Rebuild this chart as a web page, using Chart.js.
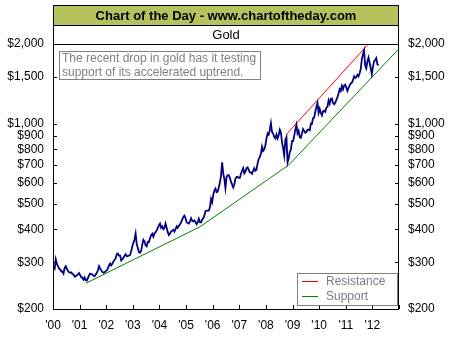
<!DOCTYPE html>
<html>
<head>
<meta charset="utf-8">
<script src="https://cdn.jsdelivr.net/npm/chart.js@4.4.1/dist/chart.umd.min.js"></script>
<style>
  body { margin: 0; background: #fff; }
</style>
</head>
<body>
<canvas id="grafica" width="454" height="340"></canvas>
<script>
// Precio del oro, dos lecturas por mes desde enero 2000 hasta marzo 2012
const goldStart = 2000;
const goldPerYear = 24;
const goldPrices = [
  288, 284, 308, 296, 290, 284, 282, 277, 277, 272, 286, 290, 283, 279, 275, 274, 275, 271, 270, 265, 266, 268, 270, 273, // 2000
  268, 264, 262, 258, 263, 257, 256, 262, 268, 272, 271, 270, 267, 266, 270, 274, 280, 290, 284, 280, 276, 274, 275, 278, // 2001
  280, 284, 292, 297, 292, 296, 302, 306, 311, 322, 324, 318, 318, 305, 308, 312, 318, 322, 316, 317, 318, 320, 330, 345, // 2002
  355, 366, 385, 352, 340, 328, 326, 332, 350, 365, 360, 348, 345, 358, 358, 370, 380, 385, 375, 385, 390, 396, 405, 413, // 2003
  420, 405, 410, 400, 405, 420, 405, 390, 380, 385, 392, 395, 398, 392, 400, 410, 405, 412, 418, 425, 435, 445, 450, 440, // 2004
  425, 422, 420, 428, 440, 430, 428, 432, 425, 418, 425, 438, 425, 425, 435, 440, 450, 468, 470, 470, 470, 485, 520, 505, // 2005
  540, 560, 570, 552, 555, 575, 600, 635, 715, 650, 620, 572, 630, 640, 640, 625, 605, 590, 575, 590, 620, 630, 630, 625, // 2006
  625, 648, 665, 680, 650, 660, 680, 685, 670, 655, 655, 648, 665, 680, 665, 670, 710, 735, 750, 770, 820, 790, 800, 830, // 2007
  880, 920, 910, 950, 1005, 930, 920, 890, 880, 910, 880, 905, 950, 930, 850, 810, 760, 870, 890, 715, 740, 780, 800, 860, // 2008
  860, 900, 950, 990, 920, 940, 890, 885, 920, 955, 940, 925, 930, 950, 950, 945, 1000, 1000, 1050, 1055, 1110, 1160, 1200, 1100, // 2009
  1140, 1100, 1075, 1115, 1120, 1110, 1150, 1160, 1225, 1190, 1240, 1245, 1200, 1185, 1200, 1230, 1260, 1300, 1350, 1330, 1390, 1350, 1395, 1405, // 2010
  1370, 1330, 1365, 1395, 1420, 1430, 1460, 1510, 1490, 1500, 1530, 1510, 1550, 1610, 1750, 1830, 1890, 1660, 1620, 1720, 1780, 1700, 1620, 1540, // 2011
  1640, 1720, 1740, 1770, 1680, 1660 // 2012
];

// Líneas de tendencia (año, precio)
const supportYears = [2001.23, 2005.53, 2008.85, 2013];
const supportValues = [250, 409, 698, 1920];
const resistanceYears = [2008.75, 2011.85];
const resistanceValues = [907, 2000];

// Ejes
const yearTicks = [2000, 2001, 2002, 2003, 2004, 2005, 2006, 2007, 2008, 2009, 2010, 2011, 2012, 2013];
const priceTicks = [200, 300, 400, 500, 600, 700, 800, 900, 1000, 1500, 2000];

const titulo = "Chart of the Day - www.chartoftheday.com";
const subtitulo = "Gold";
const nota = ["The recent drop in gold has it testing", "support of its accelerated uptrend."];

const fuente = 'Arial, "Liberation Sans", sans-serif';

const toPoints = (xs, ys) => xs.map((x, i) => ({ x: x, y: ys[i] }));
const goldPoints = goldPrices.map((v, i) => ({ x: goldStart + (i + 0.5) / goldPerYear, y: v }));

const precio = v => '$' + v.toLocaleString('en-US');

// Marco, título, marcas interiores, nota y leyenda
const decorado = {
  id: 'decorado',
  afterDraw(chart) {
    const ctx = chart.ctx;
    const a = chart.chartArea;
    ctx.save();
    // banda del título
    ctx.fillStyle = '#b5c25e';
    ctx.fillRect(a.left, 5, a.right - a.left, 20);
    ctx.strokeStyle = '#000';
    ctx.lineWidth = 1;
    ctx.strokeRect(a.left + 0.5, 5.5, a.right - a.left - 1, 20);
    ctx.fillStyle = '#000';
    ctx.textAlign = 'center';
    ctx.textBaseline = 'middle';
    ctx.font = 'bold 13px ' + fuente;
    ctx.fillText(titulo, (a.left + a.right) / 2, 16);
    ctx.strokeRect(a.left + 0.5, 25.5, a.right - a.left - 1, a.top - 25);
    ctx.font = '13px ' + fuente;
    ctx.fillText(subtitulo, (a.left + a.right) / 2, 35);
    // marco del gráfico
    ctx.strokeRect(a.left + 0.5, a.top + 0.5, a.right - a.left - 1, a.bottom - a.top);
    // marcas hacia dentro
    ctx.beginPath();
    const sx = chart.scales.x;
    yearTicks.forEach(t => {
      const px = Math.round(sx.getPixelForValue(t)) + 0.5;
      ctx.moveTo(px, a.bottom);
      ctx.lineTo(px, a.bottom - 4);
    });
    const sy = chart.scales.y;
    priceTicks.forEach(t => {
      const py = Math.round(sy.getPixelForValue(t)) + 0.5;
      ctx.moveTo(a.left, py);
      ctx.lineTo(a.left + 4, py);
      ctx.moveTo(a.right, py);
      ctx.lineTo(a.right - 4, py);
    });
    ctx.stroke();
    // nota
    ctx.strokeStyle = '#808080';
    ctx.fillStyle = '#fff';
    ctx.fillRect(59, 51, 201, 28);
    ctx.strokeRect(59.5, 51.5, 201, 28);
    ctx.fillStyle = '#808080';
    ctx.textAlign = 'left';
    ctx.font = '12px ' + fuente;
    ctx.fillText(nota[0], 62, 58.5);
    ctx.fillText(nota[1], 62, 72.5);
    // leyenda
    ctx.fillStyle = '#fff';
    ctx.fillRect(297, 273, 100, 32);
    ctx.strokeRect(297.5, 273.5, 100, 32);
    const items = [chart.data.datasets[1], chart.data.datasets[2]];
    items.forEach((d, i) => {
      const yy = 281.5 + i * 15;
      ctx.strokeStyle = d.borderColor;
      ctx.beginPath();
      ctx.moveTo(302, yy);
      ctx.lineTo(318, yy);
      ctx.stroke();
      ctx.fillStyle = '#7a7a8c';
      ctx.fillText(d.label, 326, yy);
    });
    ctx.restore();
  }
};

new Chart(document.getElementById('grafica'), {
  type: 'line',
  data: {
    datasets: [
      { label: 'Gold', data: goldPoints, borderColor: '#000080', borderWidth: 1.8, pointRadius: 0, tension: 0 },
      { label: 'Resistance', data: toPoints(resistanceYears, resistanceValues), borderColor: '#ff0000', borderWidth: 1, pointRadius: 0 },
      { label: 'Support', data: toPoints(supportYears, supportValues), borderColor: '#008000', borderWidth: 1, pointRadius: 0 }
    ]
  },
  options: {
    responsive: false,
    animation: false,
    layout: { padding: { top: 44, left: 0, right: 0, bottom: 0 } },
    plugins: { legend: { display: false }, tooltip: { enabled: false } },
    scales: {
      x: {
        type: 'linear', min: 2000, max: 2013,
        afterFit: s => { s.height = 31; },
        afterBuildTicks: s => { s.ticks = yearTicks.map(v => ({ value: v })); },
        grid: { display: false, drawTicks: false }, border: { display: false },
        ticks: {
          autoSkip: false, maxRotation: 0, padding: 9, color: '#000',
          font: { family: fuente, size: 12 },
          callback: v => v < 2013 ? "'" + String(v).slice(2) : ''
        }
      },
      y: {
        type: 'logarithmic', position: 'left', min: 200, max: 2000,
        afterFit: s => { s.width = 53; },
        afterBuildTicks: s => { s.ticks = priceTicks.map(v => ({ value: v })); },
        grid: { display: false, drawTicks: false }, border: { display: false },
        ticks: { padding: 9, color: '#000', font: { family: fuente, size: 12 }, callback: v => precio(v) }
      },
      y2: {
        type: 'logarithmic', position: 'right', min: 200, max: 2000,
        afterFit: s => { s.width = 55; },
        afterBuildTicks: s => { s.ticks = priceTicks.map(v => ({ value: v })); },
        grid: { display: false, drawTicks: false }, border: { display: false },
        ticks: { padding: 9, color: '#000', font: { family: fuente, size: 12 }, callback: v => precio(v) }
      }
    }
  },
  plugins: [decorado]
});
</script>
</body>
</html>
